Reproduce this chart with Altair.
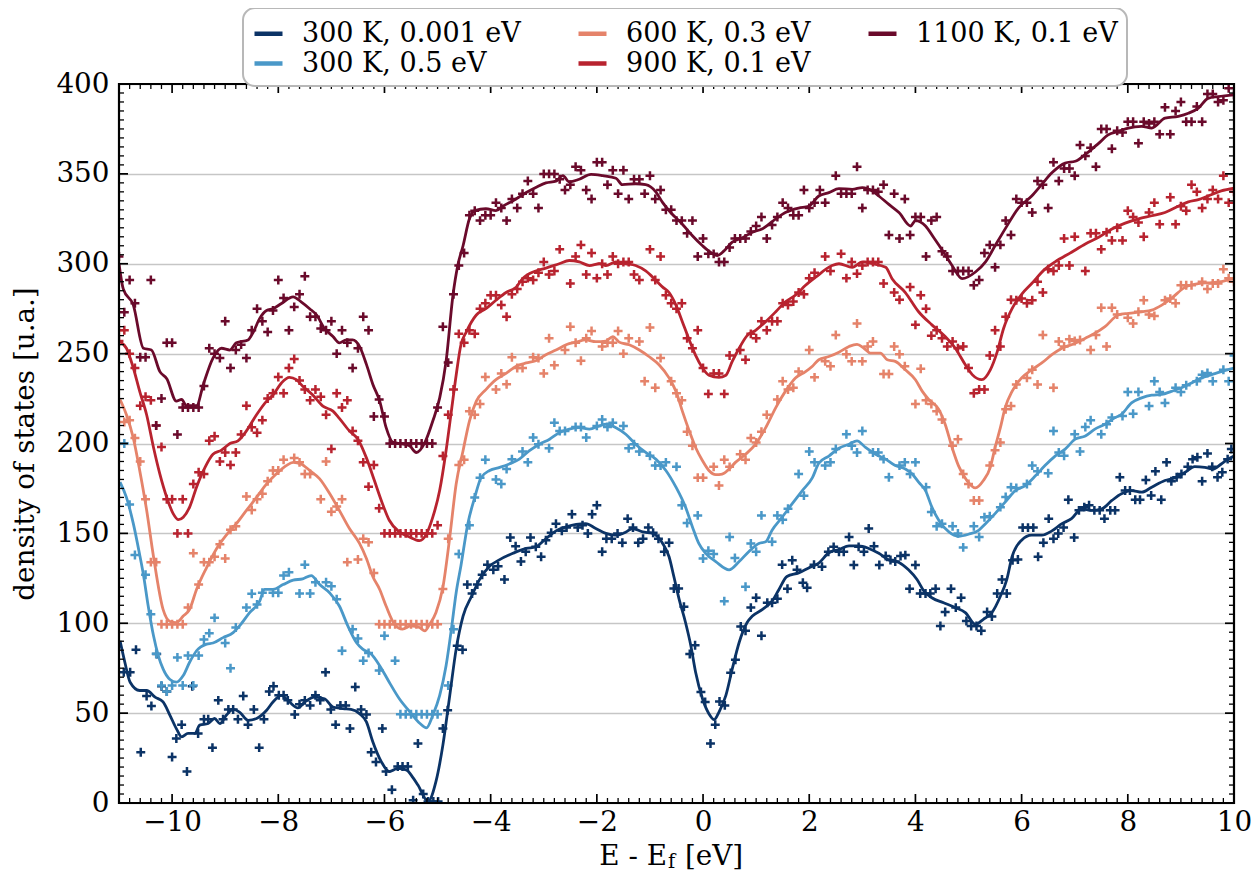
import altair as alt
import pandas as pd

FONT = "DejaVu Serif"
FS = 27.8
FS_LEG = 27

labels = ["300 K, 0.001 eV", "300 K, 0.5 eV", "600 K, 0.3 eV", "900 K, 0.1 eV", "1100 K, 0.1 eV"]
colors = ["#0b3366", "#4a98c8", "#e5836a", "#b8232f", "#6a0a2b"]
# legend is filled row-wise with 3 columns -> this order gives the column layout of the reference
legend_order = [labels[0], labels[2], labels[4], labels[1], labels[3]]
legend_colors = [colors[0], colors[2], colors[4], colors[1], colors[3]]

x_ticks_major = [-10, -8, -6, -4, -2, 0, 2, 4, 6, 8, 10]
y_ticks_major = [0, 50, 100, 150, 200, 250, 300, 350, 400]
x_minor_step = 0.2
y_minor_step = 5

# ---------------- smooth curves (x, y) ----------------
line_300a = [(-10.98, 90.2), (-10.89, 78.3), (-10.79, 67.2), (-10.61, 62.6), (-10.48, 62.6), (-10.32, 58.9), (-10.17, 56.2), (-10.04, 48.8), (-9.92, 41.4), (-9.82, 36.8), (-9.7, 38.7), (-9.57, 38.7), (-9.48, 43.3), (-9.32, 44.2), (-9.2, 47), (-9.1, 44.2), (-8.98, 48.8), (-8.85, 52.1), (-8.73, 50.6), (-8.57, 46), (-8.41, 47), (-8.22, 51.6), (-8.1, 56.2), (-7.94, 59.9), (-7.79, 56.2), (-7.63, 52.9), (-7.5, 56.2), (-7.32, 58.9), (-7.13, 58), (-6.97, 53.4), (-6.78, 52.5), (-6.63, 52.1), (-6.47, 49.7), (-6.34, 45.1), (-6.22, 34.1), (-6.06, 23), (-5.91, 17.5), (-5.75, 19.3), (-5.59, 18.4), (-5.46, 14), (-5.37, 10), (-5.18, 0.9), (-5.03, 12), (-4.9, 32.2), (-4.77, 59.9), (-4.65, 85.6), (-4.52, 104), (-4.36, 115), (-4.21, 124.3), (-4.02, 131.7), (-3.83, 135.4), (-3.58, 138.9), (-3.33, 141.6), (-3.15, 142.5), (-2.96, 147), (-2.77, 151.4), (-2.58, 153.6), (-2.39, 155), (-2.21, 155.4), (-2.02, 152.7), (-1.83, 150), (-1.64, 149), (-1.45, 150.8), (-1.33, 152.7), (-1.14, 150.8), (-0.95, 150), (-0.76, 144.4), (-0.64, 137), (-0.55, 126), (-0.45, 113.3), (-0.33, 100.4), (-0.23, 87.5), (-0.14, 72.7), (-0.01, 58), (0.11, 49.7), (0.21, 46.4), (0.3, 50.6), (0.43, 59.9), (0.55, 74.6), (0.68, 89.3), (0.83, 100.4), (0.93, 104), (1.12, 107.7), (1.3, 112.3), (1.43, 118.8), (1.58, 126), (1.8, 128), (1.99, 130.8), (2.18, 133.5), (2.37, 139.2), (2.56, 141), (2.75, 143), (2.93, 143), (3.12, 141.6), (3.31, 138.9), (3.5, 135.2), (3.69, 133.8), (3.87, 129.7), (4.03, 124.3), (4.16, 117.9), (4.31, 114.2), (4.53, 111.4), (4.75, 108.7), (4.94, 105.9), (5.13, 99.4), (5.28, 102.2), (5.44, 105.9), (5.6, 115), (5.72, 124.3), (5.82, 137), (6.0, 146.2), (6.19, 149), (6.38, 149), (6.57, 151.4), (6.76, 155.4), (6.94, 158.2), (7.13, 163.7), (7.32, 162.8), (7.51, 163.7), (7.7, 168.3), (7.88, 172), (8.07, 173.8), (8.26, 172.9), (8.45, 175.7), (8.7, 179.4), (8.88, 180.8), (9.08, 184), (9.26, 187.1), (9.45, 186.7), (9.61, 185.8), (9.76, 188.6), (9.89, 191.3), (10.0, 193)]

line_300b = [(-10.98, 178.5), (-10.86, 170), (-10.73, 155.4), (-10.61, 138), (-10.54, 127), (-10.45, 109.6), (-10.35, 93), (-10.26, 82), (-10.17, 74.6), (-10.04, 68.7), (-9.92, 67.2), (-9.79, 70.9), (-9.67, 78.3), (-9.54, 84.7), (-9.35, 88.4), (-9.23, 89), (-9.04, 92), (-8.85, 94.8), (-8.73, 98.5), (-8.54, 105.9), (-8.35, 112.3), (-8.26, 118.8), (-8.1, 118.8), (-7.91, 121.5), (-7.72, 124), (-7.54, 124.7), (-7.38, 126.5), (-7.22, 121.5), (-7.03, 116.8), (-6.85, 109.6), (-6.69, 98.5), (-6.53, 89.3), (-6.41, 85.6), (-6.25, 82.9), (-6.09, 76.4), (-5.91, 67.2), (-5.72, 58), (-5.53, 51), (-5.33, 44.2), (-5.21, 41.8), (-5.09, 48.8), (-4.96, 59.9), (-4.84, 76.4), (-4.74, 96.7), (-4.65, 117), (-4.56, 132), (-4.43, 155.4), (-4.3, 170), (-4.18, 181), (-4.02, 185), (-3.83, 186.7), (-3.65, 188.6), (-3.46, 191.3), (-3.27, 196), (-3.08, 199.6), (-2.89, 202.4), (-2.71, 206), (-2.52, 208), (-2.33, 208.8), (-2.14, 208), (-1.95, 209.8), (-1.83, 210.7), (-1.64, 208.8), (-1.45, 205), (-1.27, 199.6), (-1.08, 195), (-0.89, 191.3), (-0.7, 185), (-0.51, 175.7), (-0.33, 164.6), (-0.2, 153.6), (-0.08, 144.4), (0.05, 138.9), (0.24, 134.3), (0.49, 129.7), (0.68, 134.3), (0.86, 139.8), (1.05, 144.4), (1.18, 145.3), (1.3, 151.8), (1.49, 159), (1.68, 166.5), (1.87, 173.8), (2.06, 181), (2.18, 189), (2.37, 193), (2.56, 197.4), (2.75, 199.6), (2.9, 201.5), (3.06, 197.8), (3.25, 194), (3.44, 191.3), (3.62, 187.7), (3.81, 185.8), (3.94, 183), (4.06, 178.5), (4.19, 173.8), (4.31, 164.6), (4.44, 157.3), (4.63, 150.8), (4.81, 148.4), (5.0, 149.5), (5.19, 151.7), (5.32, 155.4), (5.5, 161), (5.69, 167.4), (5.88, 173.8), (6.07, 176.6), (6.26, 182), (6.44, 187.7), (6.63, 193), (6.82, 196.9), (7.01, 202.4), (7.2, 204.2), (7.38, 208), (7.57, 210.7), (7.76, 214.4), (7.88, 216.2), (8.07, 222.6), (8.26, 225.4), (8.45, 226.9), (8.64, 227.3), (8.82, 229), (9.01, 231), (9.2, 233.7), (9.39, 236.5), (9.58, 238.3), (9.76, 240), (10.0, 242)]

line_600 = [(-10.98, 224.5), (-10.86, 216), (-10.73, 203), (-10.61, 185), (-10.48, 163), (-10.35, 137), (-10.17, 107.7), (-10.04, 101), (-9.92, 100.4), (-9.79, 104), (-9.67, 107.7), (-9.54, 118.8), (-9.35, 131), (-9.16, 141.6), (-8.98, 149), (-8.79, 155.4), (-8.6, 162.8), (-8.41, 170), (-8.22, 177.5), (-8.04, 183), (-7.85, 187.7), (-7.72, 189.5), (-7.57, 188.6), (-7.41, 185), (-7.22, 180.3), (-7.03, 172), (-6.85, 162.8), (-6.66, 152.7), (-6.47, 144.4), (-6.34, 136), (-6.22, 126), (-6.09, 118.8), (-5.97, 109.6), (-5.81, 99.4), (-5.66, 96.7), (-5.5, 98.5), (-5.34, 97.6), (-5.24, 95.8), (-5.15, 99.4), (-5.03, 106), (-4.9, 120), (-4.77, 148), (-4.65, 177.5), (-4.52, 196), (-4.4, 212.5), (-4.27, 223.6), (-4.09, 230), (-3.9, 235.5), (-3.71, 239), (-3.52, 243), (-3.33, 244.8), (-3.15, 246), (-2.96, 249.4), (-2.77, 252), (-2.58, 254.9), (-2.39, 256.4), (-2.21, 257.6), (-2.02, 256.7), (-1.83, 257), (-1.7, 259.5), (-1.58, 256.4), (-1.39, 254.9), (-1.2, 252), (-1.02, 248.4), (-0.83, 243.8), (-0.64, 236.5), (-0.51, 229), (-0.39, 218), (-0.26, 207), (-0.14, 197.8), (-0.01, 190.4), (0.11, 185), (0.24, 182.7), (0.36, 183), (0.49, 185.8), (0.61, 189.5), (0.8, 194), (0.99, 199.6), (1.18, 208.8), (1.37, 220), (1.55, 229), (1.74, 236.5), (1.93, 240), (2.06, 243), (2.18, 246.6), (2.37, 248.4), (2.56, 250.8), (2.75, 254), (2.9, 255.2), (3.03, 253), (3.15, 250.3), (3.34, 250.3), (3.47, 246.6), (3.62, 245.7), (3.81, 241), (4.0, 235.5), (4.13, 229), (4.25, 224.5), (4.44, 219), (4.56, 210.7), (4.69, 197.8), (4.81, 187.7), (4.97, 179.4), (5.13, 175.3), (5.28, 179.4), (5.41, 186.7), (5.5, 197.8), (5.6, 208.8), (5.69, 219.9), (5.82, 229), (6.0, 236.5), (6.19, 241), (6.38, 244.8), (6.57, 249.4), (6.76, 253), (7.01, 255.8), (7.2, 258.6), (7.38, 261.3), (7.57, 265), (7.82, 271.5), (8.01, 272.4), (8.26, 273.3), (8.45, 274.2), (8.64, 277), (8.82, 280.7), (9.08, 287), (9.33, 289), (9.58, 289.5), (9.76, 290), (10.0, 292)]

line_900 = [(-10.98, 256.7), (-10.86, 253), (-10.73, 242), (-10.61, 229), (-10.48, 216), (-10.35, 197.8), (-10.23, 183), (-10.1, 170), (-9.98, 161), (-9.88, 157.6), (-9.79, 159), (-9.67, 164.6), (-9.54, 175.7), (-9.38, 186.7), (-9.23, 194), (-9.07, 196.3), (-8.91, 200), (-8.76, 201.5), (-8.6, 207), (-8.41, 216), (-8.22, 223.6), (-8.1, 227), (-7.94, 233.7), (-7.79, 236.8), (-7.66, 235.5), (-7.54, 231.9), (-7.35, 227), (-7.16, 220.8), (-6.97, 218), (-6.85, 214), (-6.66, 207), (-6.5, 202.4), (-6.34, 192), (-6.19, 179.4), (-6.06, 168.3), (-5.91, 157.3), (-5.72, 150.8), (-5.53, 148), (-5.34, 146), (-5.21, 149.6), (-5.09, 159), (-4.96, 174), (-4.84, 196), (-4.74, 218), (-4.65, 238), (-4.56, 254.9), (-4.46, 262), (-4.27, 271.5), (-4.09, 275), (-3.9, 279.7), (-3.71, 284), (-3.52, 287), (-3.4, 291.7), (-3.15, 296), (-2.96, 297.6), (-2.71, 300), (-2.52, 301.8), (-2.33, 301), (-2.14, 299), (-1.95, 300), (-1.83, 299), (-1.64, 301), (-1.45, 300), (-1.27, 299), (-1.08, 296), (-0.89, 290.8), (-0.76, 287), (-0.64, 284), (-0.51, 277), (-0.39, 267.8), (-0.26, 257.6), (-0.14, 249), (-0.01, 242), (0.11, 238), (0.3, 236.8), (0.43, 238), (0.55, 245.7), (0.68, 253), (0.83, 260), (0.99, 263), (1.18, 267.8), (1.37, 273.3), (1.55, 278.8), (1.74, 282.5), (1.93, 288), (2.12, 292.5), (2.43, 299), (2.56, 300), (2.81, 298), (3.0, 301), (3.19, 300), (3.44, 298), (3.56, 291.7), (3.81, 284), (4.06, 273.3), (4.31, 266), (4.56, 259.5), (4.75, 253), (4.94, 243.8), (5.07, 238.3), (5.25, 235.5), (5.41, 241), (5.54, 251), (5.66, 264), (5.82, 275), (6.0, 283), (6.19, 289), (6.44, 297), (6.63, 301), (6.94, 306.4), (7.2, 311), (7.45, 314.7), (7.7, 319.3), (7.95, 322.6), (8.2, 325), (8.45, 326.7), (8.7, 328.5), (8.95, 332), (9.14, 334.4), (9.33, 335.7), (9.51, 337.7), (9.76, 340.5), (10.0, 342)]

line_1100 = [(-11.0, 300), (-10.92, 286), (-10.73, 277), (-10.54, 253), (-10.39, 252), (-10.23, 240), (-10.1, 236), (-9.92, 223.6), (-9.82, 224.5), (-9.73, 221), (-9.54, 221), (-9.41, 233), (-9.23, 247.5), (-9.07, 253), (-8.91, 252), (-8.79, 256), (-8.57, 257.6), (-8.47, 262), (-8.35, 269.6), (-8.22, 274), (-8.1, 275), (-7.94, 277.9), (-7.72, 281.6), (-7.57, 278.8), (-7.41, 275), (-7.28, 271.5), (-7.13, 264), (-6.97, 259.5), (-6.85, 256), (-6.72, 257.6), (-6.6, 257.6), (-6.47, 254), (-6.34, 244), (-6.22, 233), (-6.09, 223.6), (-5.97, 209), (-5.84, 200.6), (-5.72, 200), (-5.53, 198.7), (-5.4, 195), (-5.24, 200.5), (-5.09, 212.5), (-4.96, 225.4), (-4.84, 245.7), (-4.71, 282.5), (-4.62, 299), (-4.52, 310), (-4.4, 325), (-4.3, 329.6), (-4.09, 330.6), (-3.9, 329.6), (-3.77, 332), (-3.58, 335), (-3.33, 339.6), (-3.15, 342.4), (-2.96, 345), (-2.77, 346), (-2.64, 349), (-2.52, 345.5), (-2.33, 347), (-2.11, 349.7), (-1.89, 349), (-1.64, 347.6), (-1.52, 344), (-1.27, 344.5), (-1.08, 344), (-0.89, 340), (-0.76, 334), (-0.61, 328.5), (-0.39, 322), (-0.2, 315.6), (-0.01, 310), (0.11, 307), (0.27, 304.6), (0.39, 307), (0.55, 312), (0.71, 314), (0.93, 317.5), (1.12, 319.5), (1.37, 325), (1.55, 328.5), (1.8, 331), (1.99, 332), (2.18, 337.7), (2.37, 339.6), (2.56, 341.8), (2.81, 341.4), (3.0, 342.4), (3.19, 340.5), (3.31, 337.7), (3.5, 333), (3.69, 328.5), (3.91, 321), (4.0, 324), (4.19, 321), (4.34, 314.7), (4.53, 306.4), (4.69, 299), (4.88, 291.7), (5.13, 295.4), (5.32, 301), (5.5, 310), (5.69, 319.4), (5.94, 331), (6.19, 337.7), (6.38, 344.2), (6.57, 350.6), (6.82, 356), (7.01, 357), (7.2, 360.8), (7.45, 367), (7.63, 371.7), (7.82, 373.6), (8.01, 375.5), (8.26, 376.4), (8.45, 375.5), (8.7, 381), (8.95, 382), (9.14, 383.7), (9.33, 386.6), (9.51, 392), (9.7, 393), (10.0, 394)]

# ---------------- sampled points (x, y) ----------------
pts_300a = [(-10.91, 72.7), (-10.79, 72.7), (-10.68, 85.3), (-10.59, 28.2), (-10.48, 59.5), (-10.39, 54), (-10.29, 82.9), (-10.2, 65), (-10.1, 62), (-10.0, 25.6), (-9.92, 35.9), (-9.82, 43.6), (-9.72, 17.5), (-9.62, 65), (-9.51, 38.7), (-9.4, 46.6), (-9.32, 46.6), (-9.24, 30.8), (-9.13, 57.1), (-9.04, 46.6), (-8.94, 52), (-8.85, 52), (-8.76, 46.6), (-8.66, 59.5), (-8.57, 43.6), (-8.46, 52), (-8.36, 30.8), (-8.27, 46.6), (-8.17, 62), (-8.09, 65), (-7.99, 59.9), (-7.9, 59.9), (-7.82, 57.1), (-7.69, 49.2), (-7.6, 55), (-7.5, 57.1), (-7.4, 54.3), (-7.3, 59.9), (-7.21, 57.1), (-7.11, 72.7), (-7.01, 52), (-6.92, 43.6), (-6.83, 54.3), (-6.73, 54.3), (-6.65, 41.4), (-6.55, 64.5), (-6.44, 52), (-6.34, 49.2), (-6.25, 28.2), (-6.16, 22.8), (-6.04, 41.4), (-5.97, 17.5), (-5.86, 7.4), (-5.75, 20.3), (-5.66, 20.3), (-5.56, 20.3), (-5.46, 1.5), (-5.37, 33.1), (-5.27, 5), (-5.18, 0.9), (-5.08, 0.9), (-4.99, 0.9), (-4.9, 41.4), (-4.81, 51.6), (-4.63, 87.5), (-4.53, 85.3), (-4.44, 121.5), (-4.35, 116.6), (-4.25, 121.5), (-4.16, 127), (-4.06, 132.6), (-3.95, 129.8), (-3.86, 131.7), (-3.74, 124.3), (-3.63, 147.7), (-3.53, 142.9), (-3.43, 134.4), (-3.34, 139.8), (-3.25, 147.7), (-3.15, 142.5), (-3.05, 137), (-2.96, 146.2), (-2.86, 150.3), (-2.77, 155.4), (-2.66, 151.4), (-2.57, 153.2), (-2.47, 160.6), (-2.36, 153.2), (-2.27, 154.5), (-2.17, 149.9), (-2.09, 160.6), (-2.0, 165.6), (-1.9, 139.8), (-1.82, 147), (-1.72, 147), (-1.61, 149.9), (-1.52, 144.8), (-1.42, 158.2), (-1.32, 153.2), (-1.22, 144.8), (-1.13, 147), (-1.03, 153.2), (-0.94, 150.3), (-0.84, 147), (-0.73, 139.8), (-0.64, 144.8), (-0.55, 119.3), (-0.46, 119.3), (-0.36, 109.2), (-0.25, 82.9), (-0.15, 87.8), (-0.04, 61.7), (0.04, 56.2), (0.14, 33.1), (0.23, 43.6), (0.31, 56.5), (0.41, 54.3), (0.52, 72.4), (0.61, 79.7), (0.71, 98.2), (0.8, 95.8), (0.9, 108.7), (1.0, 114.2), (1.1, 93), (1.21, 111.4), (1.3, 111.4), (1.4, 113.6), (1.49, 132.6), (1.59, 119.2), (1.68, 135), (1.77, 129.8), (1.88, 122.5), (1.96, 119.7), (2.09, 132.6), (2.24, 131.5), (2.36, 139.8), (2.46, 142.5), (2.56, 139.8), (2.65, 139.8), (2.75, 148), (2.84, 132.4), (2.93, 142.5), (3.03, 139.8), (3.12, 152.7), (3.22, 142.9), (3.32, 132.4), (3.44, 137.4), (3.53, 135.2), (3.62, 134.3), (3.72, 137.4), (3.81, 137.9), (3.89, 119.2), (4.0, 132.4), (4.09, 116.6), (4.19, 116.6), (4.28, 116.6), (4.38, 119.2), (4.47, 98.5), (4.56, 106.3), (4.67, 119.2), (4.76, 108.7), (4.86, 114.2), (4.96, 101.3), (5.05, 98.5), (5.15, 98.5), (5.24, 95.8), (5.35, 106.3), (5.44, 103.7), (5.54, 116.6), (5.63, 124.3), (5.72, 116.6), (5.83, 135), (5.93, 135.5), (6.02, 153.2), (6.12, 153.2), (6.22, 153.2), (6.31, 137), (6.41, 144.8), (6.51, 158.2), (6.6, 147), (6.69, 149.9), (6.79, 153.2), (6.88, 168.7), (6.99, 147.7), (7.08, 162.8), (7.18, 164.6), (7.27, 165.6), (7.37, 162.8), (7.47, 162.8), (7.56, 158.2), (7.67, 162.8), (7.76, 162.8), (7.85, 181.2), (7.95, 173.8), (8.04, 173.8), (8.14, 168.7), (8.23, 168.7), (8.34, 179.7), (8.44, 171.1), (8.52, 184.5), (8.63, 168.7), (8.73, 189.5), (8.82, 179), (8.92, 181.2), (9.01, 183), (9.13, 187.1), (9.22, 191.3), (9.31, 192.3), (9.4, 179), (9.5, 194.5), (9.59, 187.1), (9.69, 181.2), (9.78, 184), (9.88, 191.3), (9.95, 196.9)]

pts_300b = [(-10.9, 200), (-10.8, 166), (-10.7, 138), (-10.5, 127), (-10.4, 105), (-10.3, 83), (-10.2, 65.4), (-10.1, 62), (-10.0, 65.4), (-9.9, 81), (-9.8, 65.4), (-9.7, 82), (-9.6, 65.4), (-9.5, 82), (-9.4, 91), (-9.3, 94.5), (-9.2, 103), (-9.0, 89), (-8.9, 75), (-8.8, 97.6), (-8.6, 108.7), (-8.5, 116.4), (-8.4, 110.5), (-8.3, 117), (-8.1, 117), (-8.0, 117), (-7.9, 126.5), (-7.8, 128.4), (-7.6, 116.6), (-7.5, 132.6), (-7.4, 116.6), (-7.3, 122.8), (-7.1, 122.8), (-7.0, 120.6), (-6.9, 113.3), (-6.8, 84.7), (-6.6, 96.7), (-6.5, 91.5), (-6.4, 79.2), (-6.3, 83.4), (-6.1, 73.7), (-6.0, 93), (-5.8, 79.2), (-5.7, 49.4), (-5.6, 49.4), (-5.5, 49.4), (-5.4, 49.4), (-5.3, 49.4), (-5.2, 49.4), (-5.1, 49.4), (-5.0, 49.4), (-4.8, 65.4), (-4.7, 96.7), (-4.6, 138.5), (-4.4, 154.5), (-4.3, 170), (-4.2, 181), (-4.1, 191), (-3.9, 180), (-3.8, 177.5), (-3.7, 185.8), (-3.6, 191.3), (-3.4, 195.6), (-3.3, 189.5), (-3.2, 203.3), (-3.1, 199.6), (-2.9, 197.4), (-2.8, 211.6), (-2.7, 207), (-2.6, 207), (-2.4, 209.2), (-2.3, 209.2), (-2.2, 203.3), (-2.0, 209.8), (-1.9, 213.4), (-1.8, 209.2), (-1.7, 211.6), (-1.5, 209.8), (-1.4, 197.4), (-1.3, 199.6), (-1.2, 195.6), (-1.0, 193.2), (-0.9, 187.7), (-0.8, 187.7), (-0.7, 189.5), (-0.5, 187.1), (-0.4, 165.6), (-0.3, 155.8), (-0.1, 160), (0.0, 136), (0.1, 140.3), (0.2, 138.5), (0.4, 112.3), (0.5, 148), (0.6, 136.3), (0.8, 120.3), (0.9, 144.4), (1.0, 139.8), (1.1, 160), (1.3, 145.3), (1.4, 160), (1.5, 157.6), (1.6, 163.7), (1.8, 183), (1.9, 171), (2.0, 195.6), (2.1, 189.5), (2.3, 187.7), (2.4, 189.5), (2.5, 196.9), (2.7, 205.2), (2.8, 198.7), (2.9, 195), (3.0, 207), (3.2, 195), (3.3, 195), (3.4, 191.3), (3.5, 181.2), (3.7, 187.7), (3.8, 189.5), (3.9, 183), (4.0, 189.5), (4.2, 175.7), (4.3, 161.9), (4.4, 154), (4.5, 155.4), (4.7, 154), (4.8, 150), (4.9, 142.2), (5.1, 154), (5.2, 148), (5.3, 159), (5.4, 159.5), (5.6, 164.6), (5.7, 170.2), (5.8, 175.7), (5.9, 175.3), (6.1, 177.5), (6.2, 187.7), (6.3, 184.5), (6.5, 183.4), (6.6, 207), (6.7, 195), (6.8, 193.2), (7.0, 205.2), (7.1, 195.6), (7.2, 209.2), (7.3, 212.9), (7.5, 205.2), (7.6, 210.7), (7.7, 214.4), (7.9, 215.3), (8.0, 228.7), (8.1, 216.6), (8.2, 228.7), (8.4, 220.8), (8.5, 234.6), (8.6, 228.7), (8.7, 222.6), (8.9, 231), (9.0, 228.7), (9.1, 232.4), (9.3, 234.6), (9.4, 238.3), (9.5, 239.2), (9.6, 234.6), (9.8, 241), (9.9, 234.6), (10.0, 249)]

pts_600 = [(-11.0, 263), (-10.9, 212), (-10.8, 213), (-10.7, 203), (-10.6, 190), (-10.5, 169), (-10.4, 134), (-10.3, 134), (-10.2, 99.4), (-10.1, 99.4), (-10.0, 99.4), (-9.9, 99.4), (-9.8, 99.4), (-9.7, 108.7), (-9.6, 139), (-9.5, 121.5), (-9.4, 134), (-9.3, 134), (-9.2, 137), (-9.1, 144), (-9.0, 136), (-8.9, 152), (-8.8, 154), (-8.6, 170.5), (-8.5, 163), (-8.4, 169), (-8.3, 172), (-8.2, 179), (-8.1, 185), (-8.0, 185), (-7.9, 191), (-7.7, 192), (-7.6, 189.5), (-7.5, 183), (-7.4, 183), (-7.2, 169), (-7.1, 190), (-7.0, 162), (-6.9, 165), (-6.8, 169), (-6.7, 134), (-6.5, 135.5), (-6.4, 147), (-6.3, 145), (-6.2, 128), (-6.1, 99.4), (-6.0, 99.4), (-5.9, 99.4), (-5.8, 99.4), (-5.7, 99.4), (-5.6, 99.4), (-5.5, 99.4), (-5.4, 99.4), (-5.3, 99.4), (-5.2, 99.4), (-5.1, 99.4), (-5.0, 99.4), (-4.9, 119), (-4.8, 147), (-4.6, 188), (-4.5, 191), (-4.4, 218), (-4.3, 216), (-4.2, 222), (-4.1, 237), (-3.9, 230), (-3.8, 239), (-3.7, 233), (-3.6, 248), (-3.5, 242), (-3.4, 242), (-3.2, 248), (-3.1, 247.5), (-3.0, 239), (-2.9, 258.6), (-2.8, 243.5), (-2.6, 252), (-2.5, 265), (-2.4, 256), (-2.3, 246), (-2.2, 258.6), (-2.1, 262.6), (-1.9, 254), (-1.8, 256), (-1.7, 256), (-1.6, 262.6), (-1.5, 250), (-1.4, 258.6), (-1.2, 256.7), (-1.1, 234.6), (-1.0, 264.5), (-0.9, 231), (-0.8, 247.5), (-0.6, 234.6), (-0.5, 228), (-0.4, 224), (-0.3, 206.6), (-0.2, 198.7), (-0.1, 181), (0.0, 181), (0.2, 187), (0.3, 176.6), (0.4, 191), (0.5, 187), (0.7, 194), (0.8, 191), (0.9, 203), (1.0, 200.6), (1.1, 206.6), (1.2, 216), (1.4, 224.5), (1.5, 234.6), (1.6, 230), (1.7, 231), (1.8, 240), (2.0, 252), (2.1, 236.8), (2.3, 245.7), (2.4, 243), (2.5, 260.4), (2.7, 249.7), (2.8, 245.7), (2.9, 266.8), (3.0, 245.7), (3.1, 254), (3.2, 256.7), (3.4, 238.7), (3.5, 238.7), (3.6, 254), (3.7, 249.7), (3.8, 243), (4.0, 222), (4.1, 241.6), (4.2, 224), (4.3, 222), (4.4, 218), (4.5, 213.4), (4.7, 198.7), (4.8, 202.4), (4.9, 183), (5.0, 177.5), (5.1, 168.3), (5.2, 168.3), (5.4, 187.7), (5.5, 196.3), (5.6, 200.6), (5.7, 219), (5.8, 220.8), (5.9, 232.8), (6.1, 236.5), (6.2, 241), (6.3, 232.8), (6.4, 260.4), (6.6, 231), (6.7, 256.7), (6.8, 254), (6.9, 258), (7.0, 257), (7.1, 257.6), (7.3, 252), (7.4, 260.4), (7.5, 275.5), (7.6, 254), (7.7, 275.5), (7.8, 271.8), (8.0, 270), (8.1, 266.8), (8.2, 273.3), (8.3, 279.7), (8.4, 271.8), (8.5, 271), (8.7, 279.7), (8.8, 280.6), (8.9, 278), (9.0, 288), (9.1, 288), (9.2, 288), (9.4, 290), (9.5, 286), (9.6, 289), (9.7, 289), (9.8, 297), (9.9, 292), (10.0, 290)]

pts_900 = [(-11.0, 257), (-10.9, 263), (-10.8, 250), (-10.7, 242), (-10.6, 221), (-10.5, 226), (-10.4, 224), (-10.3, 210), (-10.2, 198), (-10.1, 169), (-10.0, 169), (-9.9, 150), (-9.8, 169), (-9.7, 150), (-9.6, 177.5), (-9.5, 184), (-9.4, 183), (-9.3, 201.5), (-9.2, 204), (-9.1, 190), (-9.0, 195), (-8.9, 188), (-8.8, 195), (-8.7, 205), (-8.6, 221), (-8.5, 209), (-8.4, 206), (-8.3, 213), (-8.2, 225), (-8.1, 228), (-8.0, 237), (-7.9, 228), (-7.8, 242), (-7.7, 247), (-7.6, 235), (-7.5, 230), (-7.4, 224), (-7.3, 230), (-7.2, 226), (-7.1, 216), (-7.0, 197), (-6.9, 228), (-6.8, 220), (-6.7, 224), (-6.6, 207), (-6.5, 201.5), (-6.4, 189.5), (-6.3, 176), (-6.2, 188), (-6.1, 164), (-6.0, 150), (-5.9, 150), (-5.8, 150), (-5.7, 150), (-5.6, 150), (-5.5, 150), (-5.4, 150), (-5.3, 150), (-5.2, 150), (-5.1, 150), (-5.0, 154.5), (-4.9, 193), (-4.8, 216), (-4.7, 230), (-4.6, 261), (-4.5, 256), (-4.4, 263), (-4.3, 261), (-4.2, 275), (-4.1, 278), (-4.0, 282.5), (-3.9, 282.5), (-3.8, 277), (-3.7, 270.5), (-3.6, 283), (-3.5, 286), (-3.4, 290), (-3.3, 292), (-3.2, 291), (-3.1, 295), (-3.0, 301), (-2.9, 294), (-2.8, 296), (-2.7, 308), (-2.5, 289), (-2.4, 304), (-2.3, 310.5), (-2.2, 294), (-2.1, 306), (-2.0, 292), (-1.9, 300), (-1.8, 294), (-1.7, 304), (-1.6, 300), (-1.5, 301), (-1.4, 301), (-1.3, 294), (-1.2, 291), (-1.0, 308), (-0.9, 291), (-0.8, 304), (-0.7, 282.5), (-0.6, 278), (-0.5, 275), (-0.4, 278), (-0.3, 258.6), (-0.2, 253), (-0.1, 263), (0.0, 242), (0.1, 227.6), (0.2, 239), (0.3, 239), (0.4, 227.6), (0.5, 249), (0.7, 252), (0.8, 246.6), (0.9, 261), (1.0, 258.6), (1.1, 268), (1.2, 263), (1.3, 268), (1.4, 268), (1.5, 278), (1.6, 277), (1.7, 279), (1.8, 284), (1.9, 283), (2.0, 292), (2.1, 295), (2.3, 304), (2.4, 296), (2.6, 305.5), (2.7, 292), (2.8, 301), (2.9, 294.5), (3.0, 299), (3.1, 301), (3.2, 301), (3.3, 301), (3.4, 289), (3.6, 284), (3.7, 280), (3.9, 287), (4.0, 266), (4.1, 282.5), (4.2, 275), (4.3, 260), (4.4, 263), (4.5, 258.6), (4.6, 254), (4.7, 256.7), (4.8, 253), (4.9, 254), (5.0, 242), (5.1, 228), (5.2, 230), (5.3, 230), (5.4, 249), (5.5, 263), (5.6, 254), (5.7, 270.5), (5.8, 280), (5.9, 279.7), (6.0, 280.6), (6.1, 278), (6.2, 279.7), (6.3, 290), (6.4, 284), (6.5, 297), (6.6, 296), (6.7, 299), (6.8, 314), (6.9, 299), (7.0, 315), (7.2, 296), (7.3, 317), (7.4, 317), (7.5, 308), (7.6, 317.5), (7.7, 313), (7.8, 320), (7.9, 313), (8.0, 329.5), (8.1, 326), (8.2, 323), (8.3, 315), (8.4, 328.5), (8.5, 334), (8.6, 322), (8.8, 337), (8.9, 322), (9.0, 332), (9.1, 329.5), (9.2, 344), (9.3, 340), (9.4, 331), (9.5, 336), (9.6, 341), (9.7, 336), (9.8, 349), (9.9, 334), (10.0, 340)]

pts_1100 = [(-11.0, 304), (-10.9, 273), (-10.8, 291), (-10.7, 278), (-10.6, 248), (-10.5, 248), (-10.4, 291), (-10.3, 210), (-10.2, 225), (-10.1, 256), (-10.0, 256), (-9.9, 205), (-9.8, 220), (-9.7, 220), (-9.6, 220), (-9.5, 220), (-9.4, 232), (-9.3, 253), (-9.2, 250), (-9.1, 247.5), (-9.0, 268), (-8.9, 242), (-8.8, 252), (-8.7, 255), (-8.6, 247.5), (-8.5, 263), (-8.4, 275), (-8.3, 268), (-8.2, 262), (-8.1, 274), (-8.0, 291), (-7.9, 281), (-7.8, 263), (-7.7, 276), (-7.6, 283), (-7.5, 293), (-7.4, 270.5), (-7.3, 270.5), (-7.2, 264), (-7.1, 263), (-7.0, 268), (-6.9, 250), (-6.8, 263), (-6.7, 256), (-6.6, 242), (-6.5, 253), (-6.4, 270.5), (-6.3, 263), (-6.2, 215), (-6.1, 224.5), (-6.0, 215), (-5.9, 200), (-5.8, 200), (-5.7, 200), (-5.6, 200), (-5.5, 200), (-5.4, 200), (-5.3, 200), (-5.2, 200), (-5.1, 200), (-5.0, 220), (-4.9, 265), (-4.8, 245), (-4.7, 283), (-4.6, 299), (-4.5, 306), (-4.4, 327), (-4.3, 329.5), (-4.2, 324), (-4.1, 327), (-4.0, 327), (-3.9, 334), (-3.8, 331), (-3.7, 324), (-3.6, 336), (-3.5, 331), (-3.4, 339), (-3.3, 346), (-3.2, 339), (-3.1, 331), (-3.0, 350), (-2.9, 350), (-2.8, 350), (-2.7, 347), (-2.6, 341), (-2.5, 344), (-2.4, 354), (-2.3, 352), (-2.2, 341), (-2.1, 336), (-2.0, 356.5), (-1.9, 356.5), (-1.8, 344), (-1.7, 352), (-1.6, 339), (-1.5, 352), (-1.4, 336), (-1.3, 347), (-1.2, 347), (-1.1, 339), (-1.0, 349), (-0.9, 336), (-0.8, 341), (-0.7, 330), (-0.6, 330), (-0.5, 324), (-0.4, 324), (-0.3, 317), (-0.2, 324), (-0.1, 304), (0.0, 314), (0.1, 305.5), (0.2, 305.5), (0.3, 301), (0.4, 301), (0.5, 309), (0.6, 314), (0.7, 314), (0.8, 314), (0.9, 318), (1.0, 321), (1.1, 326), (1.2, 314), (1.3, 321.5), (1.4, 326), (1.5, 334), (1.6, 331), (1.7, 327), (1.8, 327), (1.9, 341), (2.0, 331), (2.1, 334), (2.2, 341), (2.3, 334), (2.5, 349), (2.6, 339), (2.7, 339), (2.8, 339), (2.9, 354), (3.0, 331), (3.1, 341), (3.2, 341), (3.3, 340), (3.4, 344), (3.5, 316), (3.6, 339), (3.7, 314), (3.8, 336), (3.9, 316), (4.0, 326), (4.1, 326), (4.2, 304), (4.3, 324), (4.4, 326), (4.5, 307), (4.6, 304), (4.7, 296), (4.8, 296), (4.9, 296), (5.0, 296), (5.1, 288), (5.2, 291), (5.3, 306), (5.4, 310.5), (5.5, 298), (5.6, 310.5), (5.7, 324), (5.8, 316), (5.9, 336), (6.0, 334), (6.1, 334), (6.2, 328.5), (6.3, 346), (6.4, 344), (6.5, 331), (6.6, 356.5), (6.7, 346), (6.8, 353), (6.9, 353), (7.0, 349), (7.1, 366), (7.2, 360), (7.3, 364.5), (7.4, 354), (7.5, 375), (7.6, 375), (7.7, 364), (7.8, 374), (7.9, 373), (8.0, 379), (8.1, 379), (8.2, 367), (8.3, 379), (8.4, 378), (8.5, 379), (8.6, 372), (8.7, 387), (8.8, 372), (8.9, 385), (9.0, 390), (9.1, 379), (9.2, 379), (9.3, 387.5), (9.4, 379), (9.5, 394.5), (9.6, 394.5), (9.7, 390), (9.8, 391), (9.9, 397.6), (10.0, 394)]

all_lines = [line_300a, line_300b, line_600, line_900, line_1100]
all_pts = [pts_300a, pts_300b, pts_600, pts_900, pts_1100]

lines_df = pd.concat([pd.DataFrame(d, columns=["x", "y"]).assign(s=lab) for d, lab in zip(all_lines, labels)], ignore_index=True)
pts_df = pd.concat([pd.DataFrame(d, columns=["x", "y"]).assign(s=lab) for d, lab in zip(all_pts, labels)], ignore_index=True)

# ---------------- layout ----------------
W, H = 1115, 719
PAD = {"left": 111, "top": 76, "right": 18, "bottom": 71}
xscale = alt.Scale(domain=[-11, 10], nice=False, zero=False)
yscale = alt.Scale(domain=[0, 400], nice=False, zero=False)
cscale = alt.Scale(domain=legend_order, range=legend_colors)

xaxis = alt.Axis(values=x_ticks_major, format="d", labelFont=FONT, labelFontSize=FS, labelColor="black",
                 ticks=False, domain=False, grid=False, labelPadding=5, title=None,
                 labelFlush=False, labelOverlap=False)
yaxis = alt.Axis(values=y_ticks_major, format="d", labelFont=FONT, labelFontSize=FS, labelColor="black",
                 ticks=False, domain=False, grid=True, gridColor="#c6c6c6", gridWidth=1.6,
                 labelPadding=10, labelFlush=False, labelOverlap=False,
                 title="density of states [u.a.]", titleFont=FONT, titleFontSize=FS,
                 titleFontWeight="normal", titleColor="black", titlePadding=16)

legend = alt.Legend(
    title=None, orient="none", legendX=124, legendY=-76, direction="horizontal", columns=3,
    symbolType="stroke", symbolStrokeWidth=4.5, symbolSize=784,
    labelFont=FONT, labelFontSize=FS_LEG, labelColor="black", labelOffset=17, labelLimit=500,
    columnPadding=48, rowPadding=0, padding=9,
    strokeColor="#b8b8b8", cornerRadius=12, fillColor="white",
)

X = alt.X("x:Q", scale=xscale, axis=xaxis)
Y = alt.Y("y:Q", scale=yscale, axis=yaxis)
C = alt.Color("s:N", scale=cscale, legend=legend)

points = alt.Chart(pts_df).mark_point(
    shape="M-1,0L1,0M0,-1L0,1", filled=False, size=80, strokeWidth=2.5, opacity=1, clip=True
).encode(x=X, y=Y, color=C)

lines = alt.Chart(lines_df).mark_line(strokeWidth=2.8, interpolate="monotone", clip=True).encode(
    x=X, y=Y, color=C
)

# tick marks (inward, on all four sides)
x_minor = [round(-11 + i * x_minor_step, 2) for i in range(int(round(21 / x_minor_step)) + 1)]
x_minor = [v for v in x_minor if v not in x_ticks_major]
y_minor = [v for v in range(0, 401, y_minor_step) if v not in y_ticks_major]

xmaj_df = pd.DataFrame({"x": x_ticks_major})
xmin_df = pd.DataFrame({"x": x_minor})
ymaj_df = pd.DataFrame({"y": y_ticks_major})
ymin_df = pd.DataFrame({"y": y_minor})

def xticks(df, length, width):
    b = alt.Chart(df).mark_rule(color="black", strokeWidth=width).encode(x=X, y=alt.value(H), y2=alt.value(H - length))
    t = alt.Chart(df).mark_rule(color="black", strokeWidth=width).encode(x=X, y=alt.value(0), y2=alt.value(length))
    return [b, t]

def yticks(df, length, width):
    l = alt.Chart(df).mark_rule(color="black", strokeWidth=width).encode(y=Y, x=alt.value(0), x2=alt.value(length))
    r = alt.Chart(df).mark_rule(color="black", strokeWidth=width).encode(y=Y, x=alt.value(W), x2=alt.value(W - length))
    return [l, r]

tick_layers = xticks(xmaj_df, 9, 1.7) + xticks(xmin_df, 5, 1.3) + yticks(ymaj_df, 9, 1.7) + yticks(ymin_df, 5, 1.3)

frame = alt.Chart(pd.DataFrame({"k": [0]})).mark_rect(fillOpacity=0, stroke="black", strokeWidth=2.2).encode(
    x=alt.value(0), x2=alt.value(W), y=alt.value(0), y2=alt.value(H)
)

# x axis title "E - E_f [eV]" with a real subscript
TB = H + 62  # baseline of the x title
t_main = alt.Chart(pd.DataFrame({"t": ["E - E"]})).mark_text(
    font=FONT, fontSize=FS, color="black", align="right", baseline="alphabetic"
).encode(text="t:N", x=alt.value(548), y=alt.value(TB))
t_sub = alt.Chart(pd.DataFrame({"t": ["f"]})).mark_text(
    font=FONT, fontSize=19.5, color="black", align="left", baseline="alphabetic"
).encode(text="t:N", x=alt.value(549), y=alt.value(TB + 3))
t_unit = alt.Chart(pd.DataFrame({"t": ["[eV]"]})).mark_text(
    font=FONT, fontSize=FS, color="black", align="left", baseline="alphabetic"
).encode(text="t:N", x=alt.value(566), y=alt.value(TB))

chart = alt.layer(points, lines, *tick_layers, frame, t_main, t_sub, t_unit).properties(
    width=W, height=H, padding=PAD,
    autosize=alt.AutoSizeParams(type="none"),
).configure_view(strokeWidth=0).configure_legend(strokeWidth=2)

chart.save("out.html", embed_options={"renderer": "svg", "actions": False})
